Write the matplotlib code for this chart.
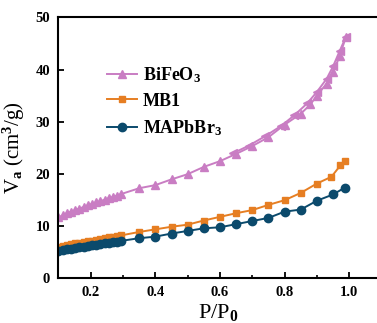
import numpy as np
import matplotlib
matplotlib.use("Agg")
import matplotlib.pyplot as plt

plt.rcParams['font.family'] = 'Liberation Serif'
plt.rcParams['font.weight'] = 'bold'
plt.rcParams['mathtext.fontset'] = 'custom'
plt.rcParams['mathtext.rm'] = 'Liberation Serif:bold'
plt.rcParams['mathtext.it'] = 'Liberation Serif:bold'
plt.rcParams['mathtext.bf'] = 'Liberation Serif:bold'

# relative pressure points, low-pressure region (dense)
p_low = [0.100, 0.113, 0.126, 0.139, 0.152, 0.165, 0.178, 0.191,
         0.204, 0.217, 0.230, 0.243, 0.256, 0.269, 0.282, 0.295]

bfo_low = [11.6, 12.0, 12.4, 12.7, 13.0, 13.3, 13.6, 13.9,
           14.2, 14.5, 14.7, 15.0, 15.3, 15.5, 15.8, 16.1]
mb1_low = [6.0, 6.15, 6.3, 6.45, 6.6, 6.75, 6.9, 7.0,
           7.15, 7.3, 7.45, 7.6, 7.75, 7.85, 8.0, 8.15]
map_low = [5.2, 5.35, 5.5, 5.6, 5.75, 5.85, 6.0, 6.1,
           6.25, 6.35, 6.5, 6.6, 6.75, 6.85, 6.95, 7.1]

# higher pressure region
bfo_p = [0.35, 0.40, 0.45, 0.50, 0.55, 0.60, 0.65, 0.70, 0.75, 0.80,
         0.85, 0.88, 0.90, 0.93, 0.95, 0.97, 0.99]
bfo_v = [17.2, 17.8, 18.9, 19.9, 21.3, 22.4, 23.8, 25.3, 27.0, 29.4,
         31.5, 33.3, 35.0, 37.3, 39.5, 42.5, 46.3]
# desorption branch
bfo_des_p = [0.99, 0.97, 0.95, 0.93, 0.90, 0.87, 0.83, 0.79, 0.74, 0.69, 0.64]
bfo_des_v = [46.3, 43.5, 40.6, 38.2, 35.7, 33.5, 31.2, 29.2, 27.2, 25.4, 23.9]

mb1_p = [0.35, 0.40, 0.45, 0.50, 0.55, 0.60, 0.65, 0.70, 0.75, 0.80,
         0.85, 0.90, 0.945, 0.973, 0.986]
mb1_v = [8.8, 9.3, 9.8, 10.2, 11.0, 11.7, 12.4, 13.0, 14.0, 14.9,
         16.3, 18.1, 19.4, 21.6, 22.4]

map_p = [0.35, 0.40, 0.45, 0.50, 0.55, 0.60, 0.65, 0.70, 0.75, 0.80,
         0.85, 0.90, 0.95, 0.986]
map_v = [7.6, 7.9, 8.5, 9.0, 9.5, 9.7, 10.3, 10.9, 11.5, 12.7,
         13.1, 14.8, 16.0, 17.3]

c_bfo = '#c97dc3'
c_mb1 = '#e67e22'
c_map = '#0b4a6c'

fig = plt.figure(figsize=(3.77, 3.23), dpi=100)
ax = fig.add_axes([0.155, 0.140, 0.845, 0.806])

ax.plot(p_low + bfo_p, bfo_low + bfo_v, color=c_bfo, marker='^', ms=6, lw=1.4, label='BiFeO$_3$')
ax.plot(bfo_des_p, bfo_des_v, color=c_bfo, marker='<', ms=6, lw=1.4)
ax.plot(p_low + mb1_p, mb1_low + mb1_v, color=c_mb1, marker='s', ms=5, lw=1.4, label='MB1')
ax.plot(p_low + map_p, map_low + map_v, color=c_map, marker='o', ms=6, lw=1.4, label='MAPbBr$_3$')

ax.set_xlim(0.1, 1.086)
ax.set_ylim(0, 50)
ax.set_xticks([0.2, 0.4, 0.6, 0.8, 1.0])
ax.set_xticks([0.3, 0.5, 0.7, 0.9], minor=True)
ax.set_yticks([0, 10, 20, 30, 40, 50])
ax.tick_params(direction='in', width=1.3, length=4, labelsize=10.5, pad=6)
ax.tick_params(which='minor', direction='in', width=1.2, length=2)
for s in ['left', 'bottom', 'top']:
    ax.spines[s].set_linewidth(1.5)
ax.spines['right'].set_visible(False)

ax.set_xlabel('P/P$_0$', fontsize=16, labelpad=2)
ax.set_ylabel('V$_a$ (cm$^3$/g)', fontsize=15, labelpad=6)

ax.legend(loc='upper left', bbox_to_anchor=(0.10, 0.88), frameon=False,
          fontsize=13, handlelength=1.7, handletextpad=0.3, labelspacing=0.45)

fig.savefig('out.png', dpi=100)
